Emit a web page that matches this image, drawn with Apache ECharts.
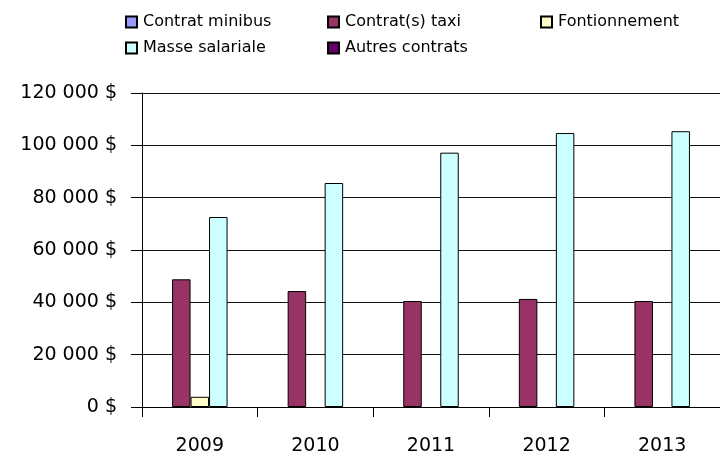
<!DOCTYPE html>
<html>
<head>
<meta charset="utf-8">
<script src="https://cdn.jsdelivr.net/npm/echarts@6/dist/echarts.min.js"></script>
<style>
html,body{margin:0;padding:0;background:#fff;}
#c{width:720px;height:467px;}
</style>
</head>
<body>
<div id="c"></div>
<script>
var categories = ['2009', '2010', '2011', '2012', '2013'];
var contratMinibus = [0, 0, 0, 0, 0];
var contratsTaxi = [48800, 44300, 40500, 41300, 40500];
var fontionnement = [3900, 0, 0, 0, 0];
var masseSalariale = [72600, 85600, 97200, 104700, 105400];
var autresContrats = [0, 0, 0, 0, 0];
var yTicks = [0, 20000, 40000, 60000, 80000, 100000, 120000];

var FONT = 'DejaVu Sans';
function fmt(v) {
  return String(v).replace(/\B(?=(\d{3})+(?!\d))/g, ' ') + ' $';
}
function mk(name, data, color) {
  return {
    name: name, type: 'bar',
    data: data.map(function (v) { return v === 0 ? null : v; }),
    barWidth: 18.5, barGap: '0%',
    itemStyle: {color: color, borderColor: '#000', borderWidth: 1},
    emphasis: {disabled: true}
  };
}
var legendBase = {
  orient: 'vertical', icon: 'rect', itemWidth: 11, itemHeight: 11,
  itemGap: 6, top: 12, padding: 0,
  textStyle: {fontFamily: FONT, fontSize: 16, color: '#000', lineHeight: 20, padding: [0, 0, 0, 1]}
};
var chart = echarts.init(document.getElementById('c'), null, {renderer: 'canvas'});
chart.setOption({
  animation: false,
  backgroundColor: '#fff',
  legend: [
    Object.assign({}, legendBase, {left: 125, data: ['Contrat minibus', 'Masse salariale']}),
    Object.assign({}, legendBase, {left: 327, data: ['Contrat(s) taxi', 'Autres contrats']}),
    Object.assign({}, legendBase, {left: 540, data: ['Fontionnement']})
  ],
  grid: {left: 142, top: 93, right: 0, bottom: 60, containLabel: false},
  xAxis: {
    type: 'category', data: categories,
    axisLine: {lineStyle: {color: '#000', width: 1}},
    axisTick: {show: true, length: 10, lineStyle: {color: '#000'}},
    axisLabel: {fontFamily: FONT, fontSize: 19, color: '#000', margin: 30}
  },
  yAxis: {
    type: 'value', min: 0, max: yTicks[yTicks.length - 1], interval: yTicks[1] - yTicks[0],
    axisLine: {show: true, lineStyle: {color: '#000', width: 1}},
    axisTick: {show: true, length: 11, lineStyle: {color: '#000'}},
    splitLine: {show: true, lineStyle: {color: '#111', width: 1}},
    axisLabel: {fontFamily: FONT, fontSize: 19, color: '#000', margin: 25, formatter: fmt}
  },
  series: [
    mk('Contrat minibus', contratMinibus, '#9999FF'),
    mk('Contrat(s) taxi', contratsTaxi, '#993366'),
    mk('Fontionnement', fontionnement, '#FFFFCC'),
    mk('Masse salariale', masseSalariale, '#CCFFFF'),
    mk('Autres contrats', autresContrats, '#660066')
  ]
});
</script>
</body>
</html>
